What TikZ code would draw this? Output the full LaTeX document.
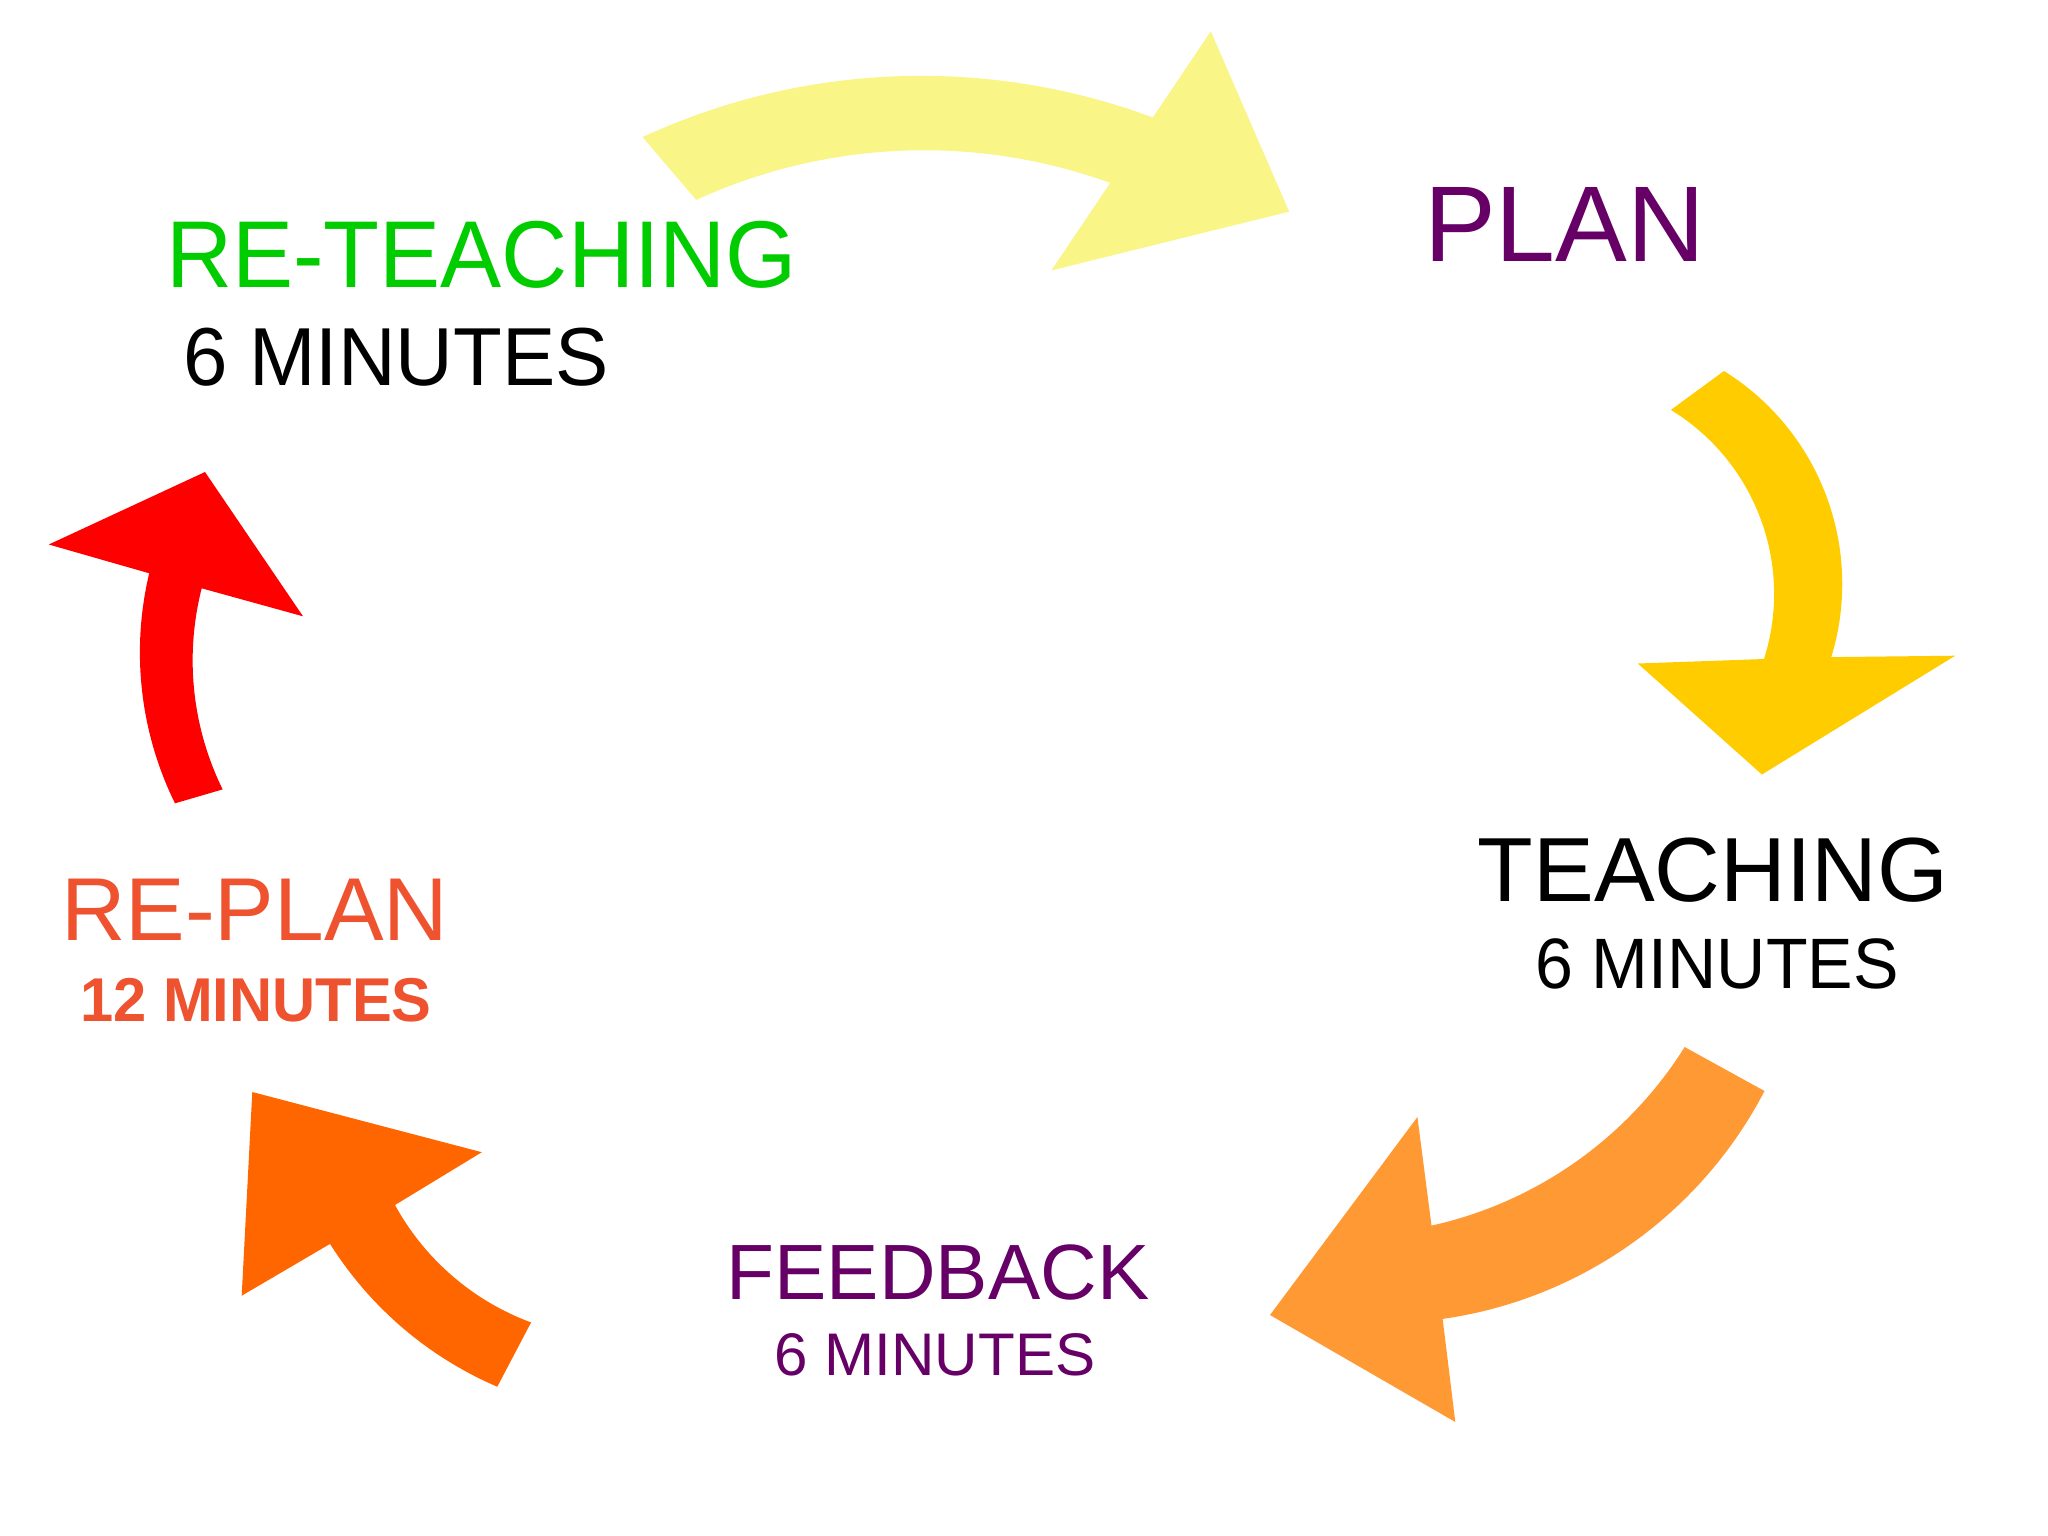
\documentclass[tikz,border=0pt]{standalone}
\usepackage{fontspec}
\usepackage{graphicx}
\setmainfont{Liberation Sans}
\definecolor{paleyellow}{RGB}{249,245,135}
\definecolor{gold}{RGB}{255,204,0}
\definecolor{lightorange}{RGB}{255,153,51}
\definecolor{darkorange}{RGB}{255,102,0}
\definecolor{pureRed}{RGB}{255,0,0}
\definecolor{plum}{RGB}{102,0,102}
\definecolor{leaf}{RGB}{0,204,0}
\definecolor{replan}{RGB}{238,82,46}
\tikzset{
  lbl/.style={inner sep=0pt, outer sep=0pt},
  arrowshape/.style={draw=none}
}
\begin{document}
\begin{tikzpicture}[x=0.01cm,y=-0.01cm]
\useasboundingbox (0,0) rectangle (2048,1536);
\fill[white] (0,0) rectangle (2048,1536);

% pale yellow arrow (re-teaching -> plan)
\fill[paleyellow,arrowshape] (642.6,137.1) arc[start angle=-114.8, end angle=-69.6, radius=664.4]
  -- (1210.8,31.3) -- (1289.1,211.6) -- (1051.4,270.4) -- (1110.2,182.9)
  arc[start angle=-70.1, end angle=-114.6, radius=547.2] -- cycle;

% gold arrow (plan -> teaching)
\fill[gold,arrowshape] (1724,371) arc[start angle=-58.1, end angle=17.0, radius=250.7]
  -- (1955.2,655.7) -- (1761.9,774.5) -- (1637.8,663.5) -- (1764,659)
  arc[start angle=17.6, end angle=-58.6, radius=215.5] -- cycle;

% light orange arrow (teaching -> feedback)
\fill[lightorange,arrowshape] (1764.5,1091) arc[start angle=27.5, end angle=81.9, radius=431.4]
  -- (1455.3,1422) -- (1270,1315) -- (1417.4,1117) -- (1431.5,1225.6)
  arc[start angle=77.5, end angle=32.1, radius=401.4] -- cycle;

% dark orange arrow (feedback -> re-plan)
\fill[darkorange,arrowshape] (252.3,1092) -- (481.8,1152.2) -- (395,1205)
  arc[start angle=151.3, end angle=110.3, radius=256.6]
  -- (497.3,1386.7)
  arc[start angle=113.2, end angle=147.8, radius=369.8]
  -- (241.7,1295.7) -- cycle;

% red arrow (re-plan -> re-teaching)
\fill[pureRed,arrowshape] (205,472) -- (303,616.3) -- (201.7,588.3)
  arc[start angle=194.3, end angle=153.8, radius=292.1]
  -- (175,803.3)
  arc[start angle=153.8, end angle=193.4, radius=341.7]
  -- (48.8,544.5) -- cycle;

% labels
\node[lbl, anchor=base west, text=leaf] (reteach) at (166,287.3) {\scalebox{0.965}[1]{\fontsize{27}{30}\selectfont RE-TEACHING}};
\node[lbl, anchor=base west, text=black] (reteachmin) at (183,385.3) {\scalebox{0.97}[1]{\fontsize{23.4}{26}\selectfont 6 MINUTES}};

\node[lbl, anchor=base west, text=plum] (plan) at (1424,261.2) {\fontsize{30.6}{34}\selectfont PLAN};

\node[lbl, anchor=base, text=black] (teach) at (1713,901.2) {\fontsize{25.9}{29}\selectfont TEACHING};
\node[lbl, anchor=base, text=black] (teachmin) at (1717,988.7) {\scalebox{0.955}[1]{\fontsize{20.3}{23}\selectfont 6 MINUTES}};

\node[lbl, anchor=base, text=plum] (feedback) at (938,1299.6) {\fontsize{22.3}{25}\selectfont FEEDBACK};
\node[lbl, anchor=base, text=plum] (feedbackmin) at (935,1375.3) {\fontsize{17.1}{20}\selectfont 6 MINUTES};

\node[lbl, anchor=base, text=replan] (replanlbl) at (254.7,940.4) {\fontsize{25.4}{28}\selectfont RE-PLAN};
\node[lbl, anchor=base, text=replan] (replanmin) at (256,1021.4) {\scalebox{0.964}[1]{\fontsize{17.6}{20}\selectfont\bfseries 12 MINUTES}};
\end{tikzpicture}
\end{document}
